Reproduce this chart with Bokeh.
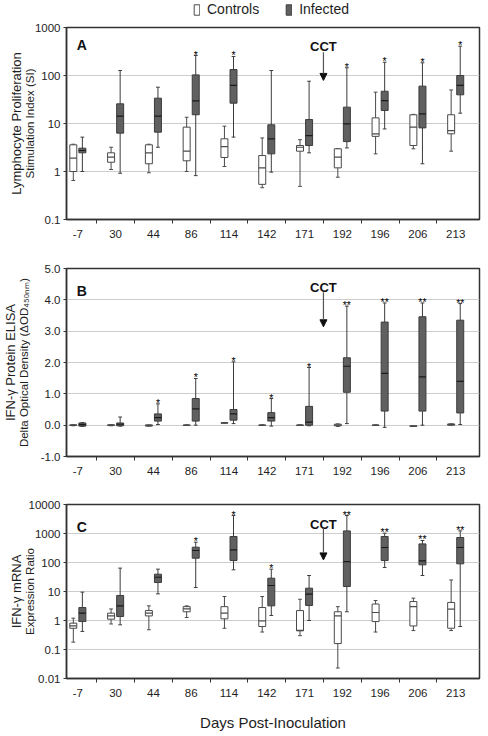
from bokeh.plotting import figure
from bokeh.layouts import column
from bokeh.models import (ColumnDataSource, FixedTicker, Range1d, Arrow, NormalHead,
                          Title, Legend, LegendItem, Label)
from bokeh.embed import file_html
from bokeh.resources import INLINE
from bokeh.core.properties import value

# ---------------------------------------------------------------- data
days = ["-7", "30", "44", "86", "114", "142", "171", "192", "196", "206", "213"]

# A: lymphocyte proliferation, stimulation index (log scale)
lp_ctrl_min = [0.65, 1.1, 0.94, 1.0, 1.27, 0.46, 0.49, 0.76, 2.33, 2.97, 2.65]
lp_ctrl_q1 = [1.0, 1.56, 1.45, 1.67, 1.96, 0.54, 2.65, 1.19, 5.4, 3.48, 6.1]
lp_ctrl_med = [1.9, 1.99, 2.45, 2.65, 3.3, 1.19, 3.2, 1.99, 6.1, 8.4, 7.1]
lp_ctrl_q3 = [3.6, 2.45, 3.6, 8.4, 4.8, 2.15, 3.48, 2.97, 13.1, 15.2, 15.2]
lp_ctrl_max = [3.7, 3.2, 3.7, 13.5, 8.8, 5.0, 4.6, 3.0, 45, 15.5, 50]
lp_inf_min = [1.0, 0.92, 3.2, 0.82, 5.2, 0.97, 2.45, 3.1, 7.7, 1.45, 16.4]
lp_inf_q1 = [2.45, 6.3, 6.6, 15.2, 26.5, 2.33, 3.48, 4.2, 18.7, 8.1, 39.6]
lp_inf_med = [2.74, 14.2, 14.2, 29.7, 62, 4.8, 5.6, 9.8, 30, 15.9, 62]
lp_inf_q3 = [3.06, 25.7, 33.7, 103, 133, 9.4, 12.1, 21.9, 47, 60, 100]
lp_inf_max = [5.2, 127, 57, 261, 249, 127, 76, 145, 189, 184, 408]
lp_sig = ["", "", "", "*", "*", "", "", "*", "*", "*", "*"]
lp_ticks = [0.1, 1, 10, 100, 1000]
lp_tick_labels = ["0.1", "1", "10", "100", "1000"]

# B: IFN-gamma protein ELISA, delta OD (linear scale)
el_ctrl_min = [-0.02, -0.02, -0.03, -0.01, 0.06, -0.01, -0.01, -0.04, -0.01, -0.04, 0.0]
el_ctrl_q1 = [-0.01, -0.01, -0.03, -0.01, 0.065, -0.01, -0.01, -0.02, -0.01, -0.04, 0.0]
el_ctrl_med = [0.0, 0.0, -0.01, 0.0, 0.07, 0.0, 0.0, 0.0, 0.0, -0.03, 0.02]
el_ctrl_q3 = [0.01, 0.01, 0.01, 0.0, 0.075, 0.0, 0.0, 0.03, 0.0, -0.02, 0.04]
el_ctrl_max = [0.02, 0.02, 0.01, 0.01, 0.08, 0.01, 0.01, 0.04, 0.01, -0.02, 0.04]
el_inf_min = [-0.04, -0.03, 0.02, 0.0, 0.05, -0.03, -0.02, 0.05, -0.07, 0.0, 0.02]
el_inf_q1 = [-0.03, -0.02, 0.13, 0.13, 0.16, 0.13, 0.0, 1.05, 0.45, 0.45, 0.39]
el_inf_med = [0.02, 0.03, 0.24, 0.52, 0.36, 0.24, 0.1, 1.88, 1.65, 1.54, 1.4]
el_inf_q3 = [0.07, 0.07, 0.36, 0.85, 0.5, 0.4, 0.6, 2.15, 3.29, 3.46, 3.35]
el_inf_max = [0.08, 0.26, 0.68, 1.49, 2.02, 0.85, 1.84, 3.8, 3.9, 3.9, 3.88]
el_sig = ["", "", "*", "*", "*", "*", "*", "**", "**", "**", "**"]
el_ticks = [-1, 0, 1, 2, 3, 4, 5]
el_tick_labels = ["-1.0", "0.0", "1.0", "2.0", "3.0", "4.0", "5.0"]

# C: IFN-gamma mRNA expression ratio (log scale)
mr_ctrl_min = [0.18, 0.76, 0.48, 1.27, 0.54, 0.4, 0.3, 0.023, 0.4, 0.45, 0.45]
mr_ctrl_q1 = [0.54, 1.11, 1.44, 2.0, 1.14, 0.62, 0.44, 0.16, 0.92, 0.65, 0.54]
mr_ctrl_med = [0.65, 1.44, 1.79, 2.5, 1.79, 0.97, 0.46, 1.44, 1.89, 3.0, 2.45]
mr_ctrl_q3 = [0.81, 1.79, 2.2, 3.0, 3.0, 2.8, 2.2, 2.0, 3.7, 4.5, 4.2]
mr_ctrl_max = [1.2, 2.5, 3.2, 3.2, 6.7, 6.7, 5.4, 3.0, 4.9, 5.9, 25]
mr_inf_min = [0.42, 0.71, 8.3, 13.7, 56, 1.49, 1.0, 2.0, 67, 35.6, 0.62]
mr_inf_q1 = [0.92, 1.37, 20.4, 141, 117, 3.2, 3.3, 14.9, 117, 83, 90]
mr_inf_med = [1.79, 3.2, 31, 259, 272, 16.1, 8.1, 108, 329, 114, 329]
mr_inf_q3 = [2.8, 7.3, 39.5, 337, 788, 28.8, 13, 1230, 788, 438, 728]
mr_inf_max = [9.5, 64, 59, 501, 4170, 59, 35.6, 4170, 1025, 574, 1230]
mr_sig = ["", "", "", "*", "*", "*", "", "**", "**", "**", "**"]
mr_ticks = [0.01, 0.1, 1, 10, 100, 1000, 10000]
mr_tick_labels = ["0.01", "0.1", "1", "10", "100", "1000", "10000"]

# ---------------------------------------------------------------- style
FONT = "Liberation Sans"
INK = "#333333"
TEXT = "#1e1e1e"
GRID = "#cdcdcd"
INF_FILL = "#606060"
INF_LINE = "#3c3c3c"
CTRL_LINE = "#4a4a4a"
CTRL_DX, INF_DX = -0.12, 0.12
BOX_W = 0.185
CAP_W = 0.1
CCT_X = 6.5  # between day 171 and day 192
LEFT, RIGHT = 66, 9


def box_group(p, shift, lo, q1, med, q3, hi, fill, line, mid):
    xs = [i + shift for i in range(len(lo))]
    src = ColumnDataSource(dict(
        x=xs, lo=lo, q1=q1, med=med, q3=q3, hi=hi,
        xl=[x - BOX_W / 2 for x in xs], xr=[x + BOX_W / 2 for x in xs],
        cl=[x - CAP_W / 2 for x in xs], cr=[x + CAP_W / 2 for x in xs]))
    p.segment("x", "lo", "x", "hi", source=src, line_color=line, line_width=1)
    p.segment("cl", "hi", "cr", "hi", source=src, line_color=line, line_width=1)
    p.segment("cl", "lo", "cr", "lo", source=src, line_color=line, line_width=1)
    r = p.vbar(x="x", width=BOX_W, bottom="q1", top="q3", source=src,
               fill_color=fill, line_color=line, line_width=1)
    p.segment("xl", "med", "xr", "med", source=src, line_color=mid, line_width=1.2)
    return r


def make_panel(height, top, bottom, axis_type, yr, ticks, labels, title, subtitle,
               standoff, letter, letter_y, cct_y, arrow_y0, arrow_y1, ctrl, inf, sig):
    p = figure(width=488, height=height, x_range=Range1d(-0.3, 10.63),
               y_range=Range1d(*yr), y_axis_type=axis_type,
               output_backend="svg", toolbar_location=None,
               min_border_left=LEFT, min_border_right=RIGHT,
               min_border_top=top, min_border_bottom=bottom)
    p.outline_line_color = INK
    p.outline_line_width = 1.5
    p.outline_line_alpha = 1.0

    # x axis: day labels under each pair, short ticks between pairs
    p.xaxis.ticker = FixedTicker(ticks=list(range(len(days))),
                                 minor_ticks=[i + 0.5 for i in range(len(days) - 1)])
    p.xaxis.major_label_overrides = {i: d for i, d in enumerate(days)}
    p.xaxis.major_tick_out = 0
    p.xaxis.major_tick_in = 0
    p.xaxis.minor_tick_out = 4
    p.xaxis.minor_tick_in = 0
    p.xaxis.minor_tick_line_color = INK
    p.xaxis.axis_line_color = INK
    p.xaxis.axis_line_width = 1.5
    p.xaxis.major_label_text_font = FONT
    p.xaxis.major_label_text_font_size = "11.5px"
    p.xaxis.major_label_text_color = TEXT
    p.xaxis.major_label_standoff = 6
    p.xgrid.visible = False

    # y axis
    p.yaxis.ticker = FixedTicker(ticks=ticks)
    p.ygrid.ticker = FixedTicker(ticks=ticks)
    p.yaxis.major_label_overrides = dict(zip(ticks, labels))
    p.yaxis.minor_tick_line_color = None
    p.yaxis.major_tick_out = 3
    p.yaxis.major_tick_in = 0
    p.yaxis.major_tick_line_color = INK
    p.yaxis.axis_line_color = INK
    p.yaxis.axis_line_width = 1.5
    p.yaxis.major_label_standoff = 3
    p.yaxis.major_label_text_font = FONT
    p.yaxis.major_label_text_font_size = "11.5px"
    p.yaxis.major_label_text_color = TEXT
    p.yaxis.axis_label = subtitle
    p.yaxis.axis_label_text_font = FONT
    p.yaxis.axis_label_text_font_size = "11.5px"
    p.yaxis.axis_label_text_font_style = "normal"
    p.yaxis.axis_label_text_color = TEXT
    p.yaxis.axis_label_standoff = standoff
    p.ygrid.grid_line_color = GRID
    p.ygrid.grid_line_width = 1.2
    p.add_layout(Title(text=title, align="center", text_font=FONT, text_font_size="13px",
                       text_font_style="normal", text_color=TEXT, standoff=-6), "left")

    box_group(p, CTRL_DX, *ctrl, fill="white", line=CTRL_LINE, mid=CTRL_LINE)
    box_group(p, INF_DX, *inf, fill=INF_FILL, line=INF_LINE, mid="#1a1a1a")

    # significance marks above the infected whiskers
    p.text(x=[i + INF_DX for i in range(len(days))], y=inf[4], text=sig,
           text_font=value(FONT), text_font_size="10.5px", text_color="#000000",
           text_align="center", text_baseline="alphabetic", y_offset=-1)

    p.add_layout(Label(x=-0.03, y=letter_y, text=letter, text_font=FONT,
                       text_font_size="14px", text_font_style="bold",
                       text_color="#111111", text_align="left",
                       text_baseline="alphabetic"))
    p.add_layout(Label(x=CCT_X, y=cct_y, text="CCT", text_font=FONT,
                       text_font_size="13px", text_font_style="bold",
                       text_color="#111111", text_align="center",
                       text_baseline="alphabetic"))
    p.add_layout(Arrow(end=NormalHead(size=7, fill_color="#111111", line_color="#111111"),
                       x_start=CCT_X, y_start=arrow_y0, x_end=CCT_X, y_end=arrow_y1,
                       line_color="#555555", line_width=1.2))
    return p


pa = make_panel(
    223, 9, 22, "log", (0.1, 1000), lp_ticks, lp_tick_labels,
    "Lymphocyte Proliferation", "Stimulation Index (SI)", -4, "A", 440, 400, 305, 79,
    (lp_ctrl_min, lp_ctrl_q1, lp_ctrl_med, lp_ctrl_q3, lp_ctrl_max),
    (lp_inf_min, lp_inf_q1, lp_inf_med, lp_inf_q3, lp_inf_max), lp_sig)

pb = make_panel(
    237, 27, 22, "linear", (-1.0, 5.0), el_ticks, el_tick_labels,
    "IFN-\u03b3 Protein ELISA", "Delta Optical Density (\u0394OD\u2084\u2085\u2080\u2099\u2098)",
    8, "B", 4.28, 4.38, 4.24, 3.14,
    (el_ctrl_min, el_ctrl_q1, el_ctrl_med, el_ctrl_q3, el_ctrl_max),
    (el_inf_min, el_inf_q1, el_inf_med, el_inf_q3, el_inf_max), el_sig)

pc = make_panel(
    258, 26, 58, "log", (0.01, 10000), mr_ticks, mr_tick_labels,
    "IFN-\u03b3 mRNA", "Expression Ratio", -10, "C", 1740, 2090, 1524, 123,
    (mr_ctrl_min, mr_ctrl_q1, mr_ctrl_med, mr_ctrl_q3, mr_ctrl_max),
    (mr_inf_min, mr_inf_q1, mr_inf_med, mr_inf_q3, mr_inf_max), mr_sig)

pc.xaxis.axis_label = "Days Post-Inoculation"
pc.xaxis.axis_label_text_font = FONT
pc.xaxis.axis_label_text_font_size = "15px"
pc.xaxis.axis_label_text_font_style = "normal"
pc.xaxis.axis_label_text_color = TEXT
pc.xaxis.axis_label_standoff = 14

# legend strip across the top
pl = figure(width=488, height=18, x_range=Range1d(0, 1), y_range=Range1d(0, 1),
            output_backend="svg", toolbar_location=None,
            min_border_left=LEFT, min_border_right=RIGHT, min_border_top=0,
            min_border_bottom=0)
pl.axis.visible = False
pl.grid.visible = False
pl.outline_line_color = None
# keys sit below the visible range; only their legend swatches show
key_ctrl = pl.vbar(x=[0.5], top=[-2], bottom=[-3], width=0.1,
                   fill_color="white", line_color=CTRL_LINE)
key_inf = pl.vbar(x=[0.5], top=[-2], bottom=[-3], width=0.1,
                  fill_color=INF_FILL, line_color=INF_LINE)
legend = Legend(items=[LegendItem(label="Controls", renderers=[key_ctrl]),
                       LegendItem(label="Infected", renderers=[key_inf])],
                orientation="horizontal", location=(127, 1),
                glyph_width=7, glyph_height=13, label_standoff=7, spacing=26,
                label_text_font=FONT, label_text_font_size="14px",
                label_text_color=TEXT, padding=0, margin=0,
                border_line_alpha=0, background_fill_alpha=0)
pl.add_layout(legend)

layout = column(pl, pa, pb, pc, spacing=0)
with open("out.html", "w") as fh:
    fh.write(file_html(layout, INLINE))
